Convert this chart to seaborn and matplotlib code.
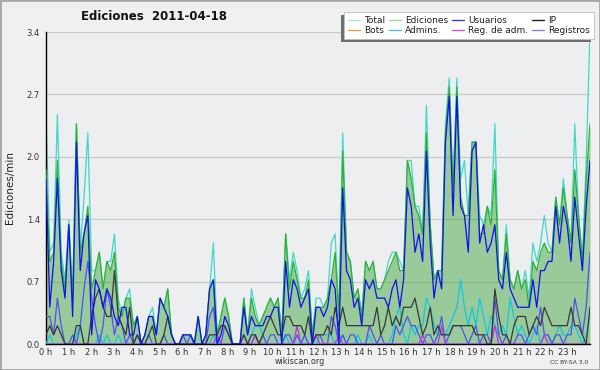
import numpy as np
import seaborn as sns
import matplotlib
matplotlib.use("Agg")
import matplotlib.pyplot as plt
from matplotlib.lines import Line2D
from matplotlib.patches import Rectangle
from matplotlib.ticker import MultipleLocator

# Données : éditions par minute, pas de 10 min (144 points sur la journée)
total = [
    2.5, 1.0, 1.1, 2.5, 1.0, 0.7,
    1.35, 0.5, 2.4, 1.0, 1.6, 2.3,
    0.8, 0.8, 1.0, 0.6, 0.9, 0.9,
    1.2, 0.5, 0.3, 0.5, 0.6, 0.2,
    0.3, 0.0, 0.1, 0.3, 0.4, 0.1,
    0.5, 0.4, 0.6, 0.1, 0.0, 0.0,
    0.1, 0.1, 0.1, 0.0, 0.3, 0.0,
    0.1, 0.6, 1.1, 0.1, 0.3, 0.5,
    0.3, 0.0, 0.0, 0.0, 0.5, 0.1,
    0.6, 0.4, 0.2, 0.3, 0.4, 0.5,
    0.4, 0.5, 0.1, 1.2, 0.7, 1.0,
    0.8, 0.5, 0.6, 0.8, 0.1, 0.5,
    0.5, 0.4, 0.5, 1.1, 1.2, 0.3,
    2.3, 1.0, 0.9, 0.5, 0.6, 0.3,
    0.9, 0.8, 0.9, 0.6, 0.6, 0.7,
    0.9, 1.0, 1.0, 0.9, 0.8, 2.0,
    2.0, 1.5, 1.5, 1.2, 2.6, 1.3,
    0.7, 0.8, 0.8, 2.4, 2.9, 1.7,
    2.9, 1.8, 2.0, 1.4, 2.2, 2.2,
    1.4, 1.3, 1.5, 1.4, 2.4, 0.8,
    0.7, 1.3, 0.7, 0.6, 0.8, 0.6,
    0.8, 0.5, 1.1, 0.9, 1.1, 1.4,
    1.1, 1.0, 1.6, 1.3, 1.8, 1.4,
    1.1, 2.4, 1.4, 0.9, 2.0, 3.4,
]
ediciones = [
    1.9, 0.9, 1.0, 2.0, 0.9, 0.6,
    1.3, 0.5, 2.4, 1.0, 1.2, 1.5,
    0.6, 0.8, 1.0, 0.6, 0.9, 0.8,
    1.0, 0.4, 0.3, 0.5, 0.5, 0.2,
    0.3, 0.0, 0.1, 0.3, 0.3, 0.1,
    0.5, 0.4, 0.6, 0.1, 0.0, 0.0,
    0.1, 0.1, 0.1, 0.0, 0.3, 0.0,
    0.1, 0.6, 0.7, 0.1, 0.3, 0.5,
    0.3, 0.0, 0.0, 0.0, 0.5, 0.1,
    0.5, 0.3, 0.2, 0.3, 0.4, 0.5,
    0.4, 0.5, 0.1, 1.2, 0.6, 0.9,
    0.7, 0.5, 0.5, 0.7, 0.1, 0.4,
    0.4, 0.4, 0.5, 0.7, 1.0, 0.3,
    2.1, 1.0, 0.9, 0.5, 0.6, 0.3,
    0.9, 0.8, 0.9, 0.6, 0.6, 0.7,
    0.8, 0.9, 1.0, 0.8, 0.8, 2.0,
    1.8, 1.5, 1.4, 1.2, 2.3, 1.3,
    0.7, 0.8, 0.8, 2.3, 2.8, 1.7,
    2.8, 1.6, 1.4, 1.4, 2.2, 2.2,
    1.2, 1.2, 1.5, 1.3, 1.9, 0.8,
    0.7, 1.2, 0.7, 0.6, 0.8, 0.6,
    0.7, 0.4, 0.9, 0.8, 1.0, 1.1,
    1.0, 1.0, 1.6, 1.3, 1.7, 1.4,
    1.1, 1.9, 1.4, 0.9, 1.8, 2.4,
]
usuarios = [
    1.8, 0.4, 0.9, 1.8, 0.8, 0.5,
    1.3, 0.3, 2.2, 0.8, 1.2, 1.4,
    0.1, 0.7, 0.6, 0.4, 0.6, 0.5,
    0.3, 0.2, 0.4, 0.4, 0.1, 0.1,
    0.3, 0.0, 0.1, 0.3, 0.3, 0.1,
    0.5, 0.4, 0.3, 0.1, 0.0, 0.0,
    0.1, 0.1, 0.1, 0.0, 0.3, 0.0,
    0.1, 0.6, 0.7, 0.0, 0.1, 0.3,
    0.2, 0.0, 0.0, 0.0, 0.4, 0.1,
    0.3, 0.2, 0.2, 0.2, 0.3, 0.3,
    0.4, 0.4, 0.0, 0.9, 0.4, 0.7,
    0.6, 0.4, 0.5, 0.6, 0.0, 0.4,
    0.4, 0.3, 0.4, 0.7, 0.6, 0.0,
    1.7, 0.8, 0.7, 0.4, 0.5, 0.2,
    0.7, 0.6, 0.7, 0.5, 0.5, 0.5,
    0.4, 0.6, 0.7, 0.4, 0.7, 1.7,
    1.5, 1.0, 1.2, 0.9, 2.1, 1.1,
    0.5, 0.8, 0.6, 2.2, 2.7, 1.4,
    2.7, 1.5, 1.4, 1.0, 2.1, 2.2,
    1.1, 1.3, 1.0, 1.1, 1.3, 0.7,
    0.6, 1.0, 0.6, 0.5, 0.4, 0.4,
    0.4, 0.4, 0.7, 0.4, 0.8, 0.8,
    0.9, 0.9, 1.5, 1.1, 1.5, 1.3,
    0.9, 1.6, 1.2, 0.8, 1.5, 2.0,
]
ip = [
    0.1, 0.2, 0.1, 0.2, 0.1, 0.0,
    0.0, 0.0, 0.2, 0.2, 0.0, 0.0,
    0.3, 0.5, 0.6, 0.4, 0.3, 0.3,
    0.8, 0.3, 0.2, 0.1, 0.4, 0.0,
    0.1, 0.0, 0.0, 0.1, 0.2, 0.0,
    0.0, 0.1, 0.3, 0.1, 0.0, 0.0,
    0.0, 0.0, 0.0, 0.0, 0.0, 0.0,
    0.0, 0.1, 0.1, 0.1, 0.2, 0.2,
    0.1, 0.0, 0.0, 0.0, 0.1, 0.0,
    0.1, 0.1, 0.0, 0.1, 0.2, 0.3,
    0.2, 0.1, 0.1, 0.3, 0.3, 0.2,
    0.2, 0.2, 0.1, 0.3, 0.0, 0.1,
    0.1, 0.1, 0.2, 0.1, 0.4, 0.2,
    0.4, 0.2, 0.2, 0.2, 0.2, 0.2,
    0.2, 0.2, 0.2, 0.4, 0.1, 0.2,
    0.4, 0.2, 0.3, 0.2, 0.4, 0.4,
    0.4, 0.5, 0.3, 0.1, 0.2, 0.4,
    0.1, 0.2, 0.1, 0.1, 0.1, 0.2,
    0.2, 0.2, 0.2, 0.2, 0.2, 0.1,
    0.1, 0.1, 0.0, 0.0, 0.6, 0.3,
    0.1, 0.1, 0.0, 0.2, 0.3, 0.3,
    0.3, 0.1, 0.2, 0.3, 0.2, 0.4,
    0.3, 0.2, 0.2, 0.2, 0.2, 0.2,
    0.4, 0.2, 0.2, 0.1, 0.0, 0.4,
]
admins = [
    0.0, 0.1, 0.0, 0.0, 0.0, 0.0,
    0.0, 0.0, 0.1, 0.2, 0.0, 0.0,
    0.0, 0.0, 0.1, 0.0, 0.1, 0.0,
    0.0, 0.1, 0.0, 0.0, 0.0, 0.0,
    0.0, 0.0, 0.0, 0.0, 0.0, 0.0,
    0.0, 0.0, 0.0, 0.0, 0.0, 0.0,
    0.0, 0.0, 0.0, 0.0, 0.0, 0.0,
    0.0, 0.0, 0.1, 0.0, 0.0, 0.0,
    0.0, 0.0, 0.0, 0.0, 0.0, 0.0,
    0.1, 0.2, 0.2, 0.1, 0.0, 0.0,
    0.0, 0.0, 0.0, 0.1, 0.0, 0.0,
    0.0, 0.0, 0.1, 0.0, 0.0, 0.0,
    0.1, 0.1, 0.1, 0.1, 0.0, 0.0,
    0.1, 0.0, 0.0, 0.0, 0.1, 0.0,
    0.0, 0.1, 0.0, 0.0, 0.0, 0.0,
    0.0, 0.1, 0.3, 0.4, 0.1, 0.0,
    0.2, 0.1, 0.2, 0.2, 0.5, 0.4,
    0.2, 0.1, 0.1, 0.1, 0.2, 0.3,
    0.4, 0.7, 0.4, 0.2, 0.4, 0.2,
    0.5, 0.3, 0.1, 0.3, 0.2, 0.1,
    0.2, 0.1, 0.5, 0.3, 0.1, 0.2,
    0.1, 0.0, 0.1, 0.2, 0.0, 0.1,
    0.1, 0.0, 0.1, 0.2, 0.1, 0.1,
    0.2, 0.2, 0.1, 0.0, 0.1, 0.3,
]
registros = [
    0.3, 0.3, 0.1, 0.5, 0.2, 0.0,
    0.0, 0.1, 0.0, 0.2, 0.6, 0.9,
    0.5, 0.2, 0.0, 0.2, 0.6, 0.4,
    0.1, 0.3, 0.2, 0.0, 0.1, 0.0,
    0.1, 0.0, 0.0, 0.1, 0.0, 0.0,
    0.0, 0.1, 0.0, 0.0, 0.0, 0.0,
    0.1, 0.0, 0.1, 0.0, 0.0, 0.0,
    0.0, 0.3, 0.4, 0.0, 0.0, 0.2,
    0.1, 0.0, 0.0, 0.0, 0.1, 0.0,
    0.0, 0.1, 0.0, 0.1, 0.0, 0.1,
    0.1, 0.0, 0.0, 0.1, 0.1, 0.0,
    0.1, 0.0, 0.1, 0.0, 0.0, 0.1,
    0.1, 0.0, 0.0, 0.3, 0.2, 0.0,
    0.1, 0.0, 0.1, 0.1, 0.0, 0.0,
    0.0, 0.2, 0.1, 0.0, 0.1, 0.0,
    0.0, 0.0, 0.2, 0.1, 0.2, 0.3,
    0.2, 0.2, 0.1, 0.0, 0.1, 0.1,
    0.0, 0.1, 0.3, 0.0, 0.1, 0.2,
    0.2, 0.2, 0.1, 0.0, 0.1, 0.2,
    0.0, 0.1, 0.1, 0.0, 0.5, 0.1,
    0.0, 0.1, 0.0, 0.0, 0.1, 0.1,
    0.0, 0.1, 0.2, 0.1, 0.4, 0.1,
    0.1, 0.0, 0.1, 0.1, 0.0, 0.1,
    0.1, 0.5, 0.3, 0.1, 0.4, 1.0,
]
reg_adm = [
    0, 0, 0, 0, 0, 0,
    0, 0, 0, 0, 0, 0,
    0, 0, 0, 0, 0, 0,
    0, 0, 0, 0, 0, 0,
    0, 0, 0, 0, 0, 0,
    0, 0, 0, 0, 0, 0,
    0, 0, 0, 0, 0, 0,
    0, 0, 0, 0.1, 0, 0,
    0, 0, 0, 0, 0, 0,
    0, 0.1, 0, 0, 0, 0,
    0, 0, 0, 0, 0, 0,
    0.2, 0, 0, 0, 0, 0.1,
    0, 0, 0, 0, 0, 0.1,
    0, 0, 0, 0, 0, 0,
    0, 0, 0, 0, 0, 0,
    0, 0, 0, 0, 0, 0,
    0, 0, 0, 0.1, 0, 0,
    0, 0, 0.2, 0, 0, 0,
    0, 0, 0, 0, 0, 0,
    0, 0, 0, 0, 0.2, 0,
    0, 0, 0, 0, 0, 0,
    0, 0, 0, 0, 0, 0.1,
    0, 0, 0, 0, 0, 0,
    0, 0, 0, 0, 0, 0,
]
bots = [0.0] * 144

y_ticks = [0.0, 0.68, 1.36, 2.04, 2.72, 3.4]
y_labels = ["0.0", "0.7", "1.4", "2.0", "2.7", "3.4"]
x_ticks = list(range(24))
x_labels = [f"{h} h" for h in x_ticks]

heures = np.linspace(0, 24, len(total))

sns.set_style("white")
plt.rcParams['font.family'] = ['DejaVu Sans']

fig = plt.figure(figsize=(6, 3.7), dpi=100, facecolor='#f0f0f0')
ax = fig.add_axes([46/600, 26/370, 544/600, 312/370])
ax.set_facecolor('#eceef0')

# Aire des éditions + courbes
ax.fill_between(heures, ediciones, color='#33a033', alpha=0.45, lw=0, zorder=1)
sns.lineplot(x=heures, y=bots, ax=ax, color='#f0a040', lw=0.9, zorder=1.5)
sns.lineplot(x=heures, y=total, ax=ax, color='#40d8c8', lw=0.9, zorder=2)
sns.lineplot(x=heures, y=ediciones, ax=ax, color='#30b030', lw=0.9, zorder=3)
sns.lineplot(x=heures, y=admins, ax=ax, color='#10c8e0', lw=0.9, zorder=4)
sns.lineplot(x=heures, y=registros, ax=ax, color='#5050f0', lw=0.9, zorder=4)
sns.lineplot(x=heures, y=reg_adm, ax=ax, color='#c030e0', lw=0.9, zorder=4)
sns.lineplot(x=heures, y=ip, ax=ax, color='#383838', lw=0.9, zorder=5)
sns.lineplot(x=heures, y=usuarios, ax=ax, color='#1010e8', lw=0.9, zorder=6)

ax.set_xlim(0, 24)
ax.set_ylim(0, 3.4)
ax.set_yticks(y_ticks, y_labels)
ax.set_xticks(x_ticks, x_labels)
ax.yaxis.set_minor_locator(MultipleLocator(0.17))
ax.xaxis.set_minor_locator(MultipleLocator(1/6))
ax.tick_params(axis='y', which='both', direction='out', length=3, width=0.8,
               labelsize=6, pad=1.5, colors='black', labelcolor='#333333')
ax.tick_params(axis='x', which='both', direction='out', length=2.2, width=0.8,
               labelsize=6, pad=0.8, labelcolor='#333333')
ax.yaxis.grid(True, color='#c8c8c8', lw=0.8)
ax.set_axisbelow(True)
for s in ['top', 'right']:
    ax.spines[s].set_visible(False)
for s in ['left', 'bottom']:
    ax.spines[s].set_color('black')
    ax.spines[s].set_linewidth(1)

# Textes
fig.text(154/600, 1 - 16/370, "Ediciones  2011-04-18", ha='center', va='center',
         fontsize=8.5, fontweight='bold', color='#111111')
fig.text(10/600, 1 - 188/370, "Ediciones/min", rotation=90, ha='center', va='center',
         fontsize=7.5, color='#222222')
fig.text(300/600, 1 - 362/370, "wikiscan.org", ha='center', va='center',
         fontsize=5.8, color='#333333')
fig.text(569/600, 1 - 362/370, "CC BY-SA 3.0", ha='center', va='center',
         fontsize=4.3, color='#333333')

# Légende (remplissage par colonnes)
noms = ["Total", "Bots", "Ediciones", "Admins.", "Usuarios", "Reg. de adm.", "IP", "Registros"]
couleurs = ['#a8e8e0', '#f0a040', '#a0d8a0', '#40c8d8', '#4040e0', '#d050e0', '#202020', '#8080f0']
handles = [Line2D([], [], color=c, lw=1) for c in couleurs]
leg = fig.legend(handles, noms, ncol=4, loc='upper right', bbox_to_anchor=(594/600, 1 - 12/370),
                 fontsize=6.5, frameon=True, fancybox=False, framealpha=1, edgecolor='#c0c0c0',
                 handlelength=1.3, handletextpad=0.5, columnspacing=0.4, labelspacing=0.15,
                 borderpad=0.45, borderaxespad=0)
leg.get_frame().set_linewidth(0.6)
for t in leg.get_texts():
    t.set_color('#202020')

fig.canvas.draw()
bb = leg.get_frame().get_window_extent().transformed(fig.transFigure.inverted())
fig.patches.append(Rectangle((bb.x0 - 3/600, bb.y0 - 3/370), bb.width, bb.height,
                             transform=fig.transFigure, facecolor='#707070', edgecolor='none',
                             zorder=4))
fig.patches.append(Rectangle((0, 0), 1, 1, transform=fig.transFigure, fill=False,
                             edgecolor='#a8a8a8', lw=2, zorder=10))

fig.savefig("out.png", dpi=100, facecolor=fig.get_facecolor())
